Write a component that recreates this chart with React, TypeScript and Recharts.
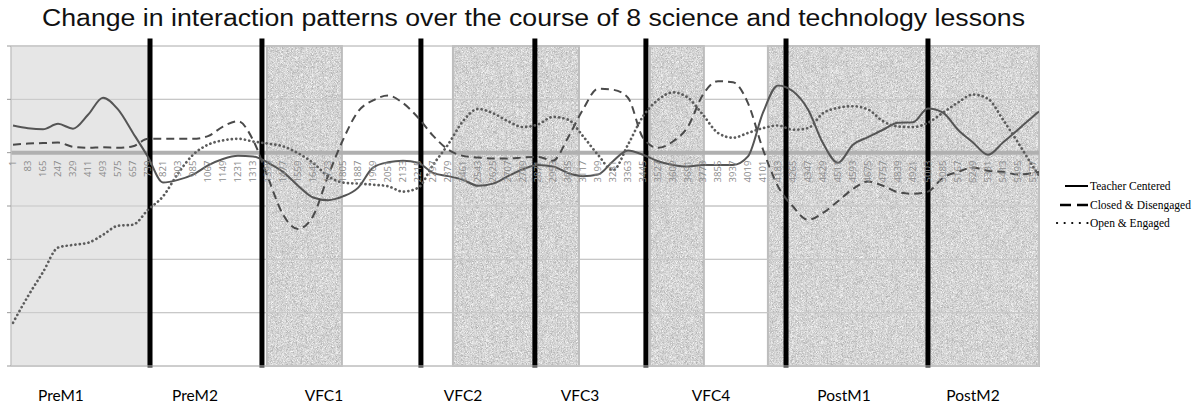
import React from 'react';
import { LineChart, Line, XAxis, YAxis, CartesianGrid, ReferenceArea, ReferenceLine } from 'recharts';

// sample index of each point (every 82nd frame, plus the last one)
const frames = [
  1, 83, 165, 247, 329, 411, 493, 575, 657, 739,
  821, 903, 985, 1067, 1149, 1231, 1313, 1395, 1477, 1559,
  1641, 1723, 1805, 1887, 1969, 2051, 2133, 2215, 2297, 2379,
  2461, 2543, 2625, 2707, 2789, 2871, 2953, 3035, 3117, 3199,
  3281, 3363, 3445, 3527, 3609, 3691, 3773, 3855, 3937, 4019,
  4101, 4183, 4265, 4347, 4429, 4511, 4593, 4675, 4757, 4839,
  4921, 5003, 5085, 5167, 5249, 5331, 5413, 5495, 5577, 5610,
];

const teacherCentered = [
  0.51, 0.46, 0.44, 0.54, 0.45, 0.71, 1.03, 0.81, 0.37, -0.08,
  -0.56, -0.51, -0.41, -0.24, -0.12, -0.06, -0.07, -0.19, -0.36, -0.62,
  -0.84, -0.89, -0.82, -0.66, -0.28, -0.18, -0.15, -0.19, -0.38, -0.44,
  -0.51, -0.62, -0.58, -0.44, -0.31, -0.23, -0.26, -0.38, -0.44, -0.41,
  -0.16, 0.04, -0.04, -0.16, -0.23, -0.26, -0.23, -0.23, -0.23, -0.07,
  0.75, 1.26, 1.15, 0.81, 0.18, -0.19, 0.15, 0.29, 0.43, 0.56,
  0.57, 0.83, 0.75, 0.43, 0.19, -0.04, 0.19, 0.43, 0.68, 0.77,
];

const closedDisengaged = [
  0.15, 0.17, 0.18, 0.19, 0.11, 0.09, 0.1, 0.09, 0.12, 0.26,
  0.26, 0.26, 0.26, 0.31, 0.49, 0.59, 0.24, -0.47, -1.16, -1.43,
  -1.19, -0.44, 0.24, 0.77, 0.98, 1.07, 0.93, 0.66, 0.32, 0.06,
  -0.06, -0.09, -0.11, -0.11, -0.09, -0.08, -0.15, 0.28, 0.81, 1.2,
  1.18, 1.03, 0.28, 0.09, 0.21, 0.49, 1.09, 1.34, 1.32, 0.93,
  0.06, -0.63, -1.01, -1.26, -1.13, -0.91, -0.68, -0.54, -0.62, -0.74,
  -0.77, -0.73, -0.47, -0.36, -0.28, -0.34, -0.36, -0.41, -0.38, -0.36,
];

const openEngaged = [
  -3.19, -2.69, -2.24, -1.78, -1.73, -1.69, -1.54, -1.37, -1.35, -1.07,
  -0.82, -0.39, -0.04, 0.15, 0.23, 0.26, 0.21, 0.17, 0.12, -0.01,
  -0.19, -0.44, -0.56, -0.58, -0.6, -0.63, -0.73, -0.66, -0.23, 0.15,
  0.59, 0.82, 0.74, 0.59, 0.48, 0.53, 0.67, 0.62, 0.31, -0.04,
  -0.33, 0.15, 0.68, 0.99, 1.13, 1.03, 0.71, 0.37, 0.28, 0.37,
  0.46, 0.51, 0.43, 0.46, 0.74, 0.84, 0.87, 0.81, 0.59, 0.49,
  0.48, 0.56, 0.75, 0.94, 1.09, 1.01, 0.62, 0.19, -0.26, -0.43,
];

const frameTicks = frames.slice(0, 69);
const yTicks = [-4, -3, -2, -1, 0, 1, 2];

const sessionNames = ['PreM1', 'PreM2', 'VFC1', 'VFC2', 'VFC3', 'VFC4', 'PostM1', 'PostM2'];
const sessionCenters = [263, 996, 1701, 2461, 3101, 3817, 4544, 5249];
const sessionBreaks = [750, 1362, 2231, 2854, 3461, 4227, 5003];
const plainSpan = [-10, 739];
const speckledSpans = [
  [1389, 1799],
  [2406, 3095],
  [3483, 3778],
  [4128, 5610],
];

const data = frames.map((f, i) => ({
  frame: f,
  teacher: teacherCentered[i],
  closed: closedDisengaged[i],
  open: openEngaged[i],
}));

const W = 1203;
const H = 410;
const TOP = 46;
const PLOT_H = 320;
const ZERO_Y = TOP + (PLOT_H * 2) / 6;
const GRID = '#c6c6c6';

const FrameTick = (props: any) => {
  const { x, payload } = props;
  const y = ZERO_Y + 8;
  return (
    <text
      x={x}
      y={y}
      dy="0.35em"
      textAnchor="end"
      transform={`rotate(-90 ${x} ${y})`}
      fill="#8a8a8a"
      fontSize={9.5}
      fontFamily="'Liberation Sans Narrow', 'Open Sans', sans-serif"
    >
      {payload.value}
    </text>
  );
};

const Speckle = (props: any) => {
  const { x, y, width, height } = props;
  return (
    <g>
      <rect x={x} y={y} width={width} height={height} fill="#d6d6d6" filter="url(#speckle)" />
      <rect x={x} y={y} width={width} height={height} fill="none" stroke="#bdbdbd" strokeWidth={2} />
    </g>
  );
};

const legendRows = [
  { label: 'Teacher Centered', kind: 'solid' },
  { label: 'Closed & Disengaged', kind: 'dashed' },
  { label: 'Open & Engaged', kind: 'dotted' },
];

const LegendBox = () => (
  <div
    style={{
      position: 'absolute',
      left: 1052,
      top: 177,
      fontFamily: "'Liberation Serif', serif",
      fontSize: 11.5,
      color: '#000',
    }}
  >
    {legendRows.map((r) => (
      <div key={r.label} style={{ display: 'flex', alignItems: 'center', height: 18.5 }}>
        <svg width={37} height={10}>
          {r.kind === 'solid' && <line x1={13} x2={36} y1={5} y2={5} stroke="#000" strokeWidth={2} />}
          {r.kind === 'dashed' && (
            <line x1={8} x2={36} y1={5} y2={5} stroke="#000" strokeWidth={2.5} strokeDasharray="11 6" />
          )}
          {r.kind === 'dotted' && (
            <line x1={5} x2={36} y1={5} y2={5} stroke="#000" strokeWidth={2.2} strokeDasharray="0.1 7.5" strokeLinecap="round" />
          )}
        </svg>
        <span style={{ marginLeft: 1, whiteSpace: 'nowrap' }}>{r.label}</span>
      </div>
    ))}
  </div>
);

export default function App() {
  return (
    <div style={{ position: 'absolute', left: 0, top: 0, width: W, height: H, background: '#fff', overflow: 'hidden' }}>
      <svg width={W} height={34} style={{ position: 'absolute', left: 0, top: 0 }}>
        <defs>
          <filter id="speckle" x="0" y="0" width="100%" height="100%" colorInterpolationFilters="sRGB">
            <feTurbulence type="fractalNoise" baseFrequency="2.2" numOctaves={1} seed={4} result="noise" />
            <feColorMatrix
              in="noise"
              type="matrix"
              values="0.5 0 0 0 0.58  0.5 0 0 0 0.58  0.5 0 0 0 0.58  0 0 0 0 1"
            />
          </filter>
        </defs>
        <text
          x={42}
          y={26}
          textLength={983}
          lengthAdjust="spacingAndGlyphs"
          fontFamily="'Liberation Sans', Arial, sans-serif"
          fontSize={23}
          fill="#111"
        >
          Change in interaction patterns over the course of 8 science and technology lessons
        </text>
      </svg>
      <div style={{ position: 'absolute', left: 0, top: 0 }}>
        <LineChart width={W} height={H} data={data} margin={{ top: TOP, right: 164, bottom: 0, left: 0 }}>
          <CartesianGrid stroke={GRID} vertical={false} />
          <ReferenceArea x1={plainSpan[0]} x2={plainSpan[1]} fill="#e6e6e6" fillOpacity={1} stroke="#c4c4c4" />
          {speckledSpans.map(([a, b]) => (
            <ReferenceArea key={a} x1={a} x2={b} shape={<Speckle />} />
          ))}
          {yTicks.map((t) => (
            <ReferenceLine key={`g${t}`} y={t} stroke={GRID} strokeWidth={1} />
          ))}
          <ReferenceLine x={5610} stroke={GRID} />
          <ReferenceLine y={0} stroke="#b0b0b0" strokeWidth={4} />
          {sessionBreaks.map((b) => (
            <ReferenceLine
              key={`b${b}`}
              segment={[
                { x: b, y: -4.03 },
                { x: b, y: 2.14 },
              ]}
              ifOverflow="visible"
              stroke="#000"
              strokeWidth={5}
            />
          ))}
          <XAxis
            dataKey="frame"
            type="number"
            domain={[-10, 5610]}
            ticks={frameTicks}
            interval={0}
            allowDataOverflow
            tick={<FrameTick />}
            tickLine={false}
            axisLine={{ stroke: GRID }}
            height={20}
          />
          <XAxis
            xAxisId="session"
            dataKey="frame"
            type="number"
            domain={[-10, 5610]}
            ticks={sessionCenters}
            interval={0}
            tickFormatter={(v: number) => sessionNames[sessionCenters.indexOf(v)] ?? ''}
            tick={{ fill: '#000', fontSize: 15.5, fontFamily: 'Lato, sans-serif' }}
            axisLine={false}
            tickLine={false}
            tickSize={0}
            tickMargin={4}
            height={24}
          />
          <YAxis
            domain={[-4, 2]}
            ticks={yTicks}
            width={11}
            tickFormatter={() => ''}
            tickSize={4}
            tickLine={{ stroke: '#999' }}
            axisLine={{ stroke: GRID }}
          />
          <Line
            dataKey="teacher"
            name="Teacher Centered"
            type="monotone"
            stroke="#555"
            strokeWidth={2}
            dot={false}
            isAnimationActive={false}
          />
          <Line
            dataKey="closed"
            name="Closed & Disengaged"
            type="monotone"
            stroke="#4a4a4a"
            strokeWidth={2}
            strokeDasharray="8 5"
            dot={false}
            isAnimationActive={false}
          />
          <Line
            dataKey="open"
            name="Open & Engaged"
            type="monotone"
            stroke="#5c5c5c"
            strokeWidth={2.7}
            strokeDasharray="0.1 4.3"
            strokeLinecap="round"
            dot={false}
            isAnimationActive={false}
          />
        </LineChart>
      </div>
      <LegendBox />
    </div>
  );
}
